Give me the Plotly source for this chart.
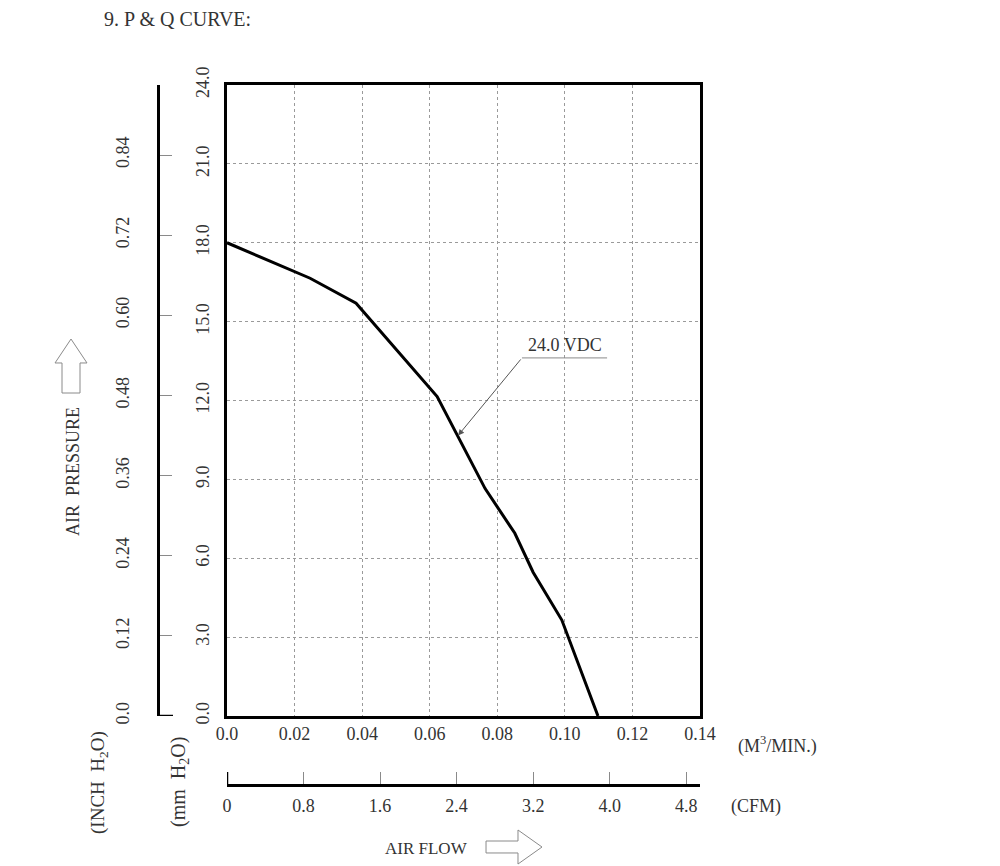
import plotly.graph_objects as go

# P & Q curve (24.0 VDC)
flow_m3min = [0.0, 0.0246, 0.0382, 0.0622, 0.0764, 0.0852, 0.0906, 0.0991, 0.1098]
pressure_mmh2o = [18.0, 16.65, 15.7, 12.15, 8.65, 6.95, 5.47, 3.65, 0.0]

x_ticks = [0.0, 0.02, 0.04, 0.06, 0.08, 0.10, 0.12, 0.14]
x_ticktext = ['0.0', '0.02', '0.04', '0.06', '0.08', '0.10', '0.12', '0.14']
mm_ticks = [0, 3, 6, 9, 12, 15, 18, 21, 24]
mm_ticktext = ['0.0', '3.0', '6.0', '9.0', '12.0', '15.0', '18.0', '21.0', '24.0']
inch_ticks = [0.0, 0.12, 0.24, 0.36, 0.48, 0.60, 0.72, 0.84]
inch_ticktext = ['0.0', '0.12', '0.24', '0.36', '0.48', '0.60', '0.72', '0.84']
cfm_ticks = [0, 0.8, 1.6, 2.4, 3.2, 4.0, 4.8]
cfm_ticktext = ['0', '0.8', '1.6', '2.4', '3.2', '4.0', '4.8']

MM_PER_INCH = 25.4
M3MIN_PER_CFM = 0.0283168
X_MAX = 0.14
Y_MAX = 24.0

# label for the curve
curve_label = '24.0 VDC'
label_point = (0.0684, 10.67)   # where the leader arrow touches the curve
label_elbow = (0.0873, 13.62)
label_end_x = 0.1125

FONT = 'Liberation Serif'
GRAY = '#8a8a8a'

# the page body has an 8px margin, so work in picture pixels minus 8
OFF = 8
W_FIG, H_FIG = 1000, 866
L, R, T, B = 158 - OFF, 700 - OFF, 85 - OFF, 785 - OFF


def px(x):
    return (x - OFF - L) / (R - L)


def py(y):
    return (B - (y - OFF)) / (B - T)


fig = go.Figure()
fig.add_trace(go.Scatter(x=flow_m3min, y=pressure_mmh2o, mode='lines',
                         line=dict(color='black', width=3), showlegend=False,
                         hoverinfo='skip'))
# dummy trace so the secondary axes get drawn
fig.add_trace(go.Scatter(x=[None], y=[None], xaxis='x2', yaxis='y2',
                         showlegend=False, hoverinfo='skip'))

fig.update_layout(
    width=W_FIG, height=H_FIG,
    margin=dict(l=L, r=W_FIG - R, t=T, b=H_FIG - B),
    paper_bgcolor='white', plot_bgcolor='white',
    font=dict(family=FONT, size=18, color='#333'),
    xaxis=dict(domain=[px(227), 1], range=[0, X_MAX], tickvals=x_ticks, ticktext=x_ticktext,
               showline=True, linewidth=2.5, linecolor='black', mirror=True,
               showgrid=True, gridcolor='#9a9a9a', griddash='dot', gridwidth=1,
               ticks='', zeroline=False, ticklabelstandoff=0),
    yaxis=dict(domain=[py(716), 1], range=[0, Y_MAX], tickvals=mm_ticks, ticktext=mm_ticktext,
               showline=True, linewidth=2.5, linecolor='black', mirror=True,
               showgrid=True, gridcolor='#9a9a9a', griddash='dot', gridwidth=1,
               ticks='', zeroline=False, tickangle=-90, ticklabelstandoff=8),
    xaxis2=dict(overlaying='x', anchor='free', position=0, domain=[px(227), 1],
                range=[0, X_MAX / M3MIN_PER_CFM], tickvals=cfm_ticks, ticktext=cfm_ticktext,
                showline=True, linewidth=2.5, linecolor='black', showgrid=False,
                ticks='inside', ticklen=12, tickcolor=GRAY, tickwidth=1, zeroline=False,
                ticklabelstandoff=4),
    yaxis2=dict(overlaying='y', anchor='free', position=0, side='left',
                range=[0, Y_MAX / MM_PER_INCH], tickvals=inch_ticks, ticktext=inch_ticktext,
                showline=True, linewidth=2.5, linecolor='black', showgrid=False,
                ticks='inside', ticklen=12, tickcolor=GRAY, tickwidth=1, zeroline=False,
                tickangle=-90, ticklabelstandoff=21),
)

# axis feet
fig.add_shape(type='line', xref='paper', yref='y', x0=0, x1=px(173), y0=0, y1=0,
              line=dict(color='black', width=2.5))
fig.add_shape(type='line', xref='x', yref='paper', x0=0, x1=0, y0=0, y1=py(772),
              line=dict(color='black', width=2.5))

# curve label with leader
fig.add_shape(type='line', xref='x', yref='y', x0=label_elbow[0], x1=label_end_x,
              y0=label_elbow[1], y1=label_elbow[1], line=dict(color=GRAY, width=1))
fig.add_annotation(x=label_point[0], y=label_point[1], ax=label_elbow[0], ay=label_elbow[1],
                   axref='x', ayref='y', xref='x', yref='y', text='', showarrow=True,
                   arrowhead=2, arrowsize=1.2, arrowwidth=1, arrowcolor='#555')
fig.add_annotation(x=(label_elbow[0] + label_end_x) / 2, y=label_elbow[1], xref='x', yref='y',
                   text=curve_label, showarrow=False, yanchor='bottom', yshift=1,
                   font=dict(size=18, color='#333'))


def text(s, x, y, angle=0, size=18, xanchor='center'):
    fig.add_annotation(x=px(x), y=py(y), xref='paper', yref='paper', text=s,
                       showarrow=False, textangle=angle, xanchor=xanchor, yanchor='middle',
                       font=dict(size=size, color='#333'))


text('9. P &amp; Q CURVE:', 102, 19, size=20, xanchor='left')
text('AIR&nbsp;&nbsp;PRESSURE', 73, 472, angle=-90, size=18)
text('(INCH&nbsp;&nbsp;H<sub>2</sub>O)', 99, 783, angle=-90, size=19)
text('(mm&nbsp;&nbsp;H<sub>2</sub>O)', 179, 782, angle=-90, size=20)
text('(M<sup>3</sup>/MIN.)', 777, 745, size=18)
text('(CFM)', 756, 806, size=18)
text('AIR FLOW', 426, 848, size=17)

# hollow arrows
up_arrow = [(71, 339), (87, 363), (80, 363), (80, 393), (62, 393), (62, 363), (55, 363)]
right_arrow = [(542, 847), (518, 830), (518, 841), (486, 841), (486, 853), (518, 853), (518, 864)]
for pts in (up_arrow, right_arrow):
    path = 'M ' + ' L '.join(f'{px(a):.4f},{py(b):.4f}' for a, b in pts) + ' Z'
    fig.add_shape(type='path', xref='paper', yref='paper', path=path,
                  line=dict(color=GRAY, width=1), fillcolor='rgba(0,0,0,0)')

fig.write_html('out.html')
